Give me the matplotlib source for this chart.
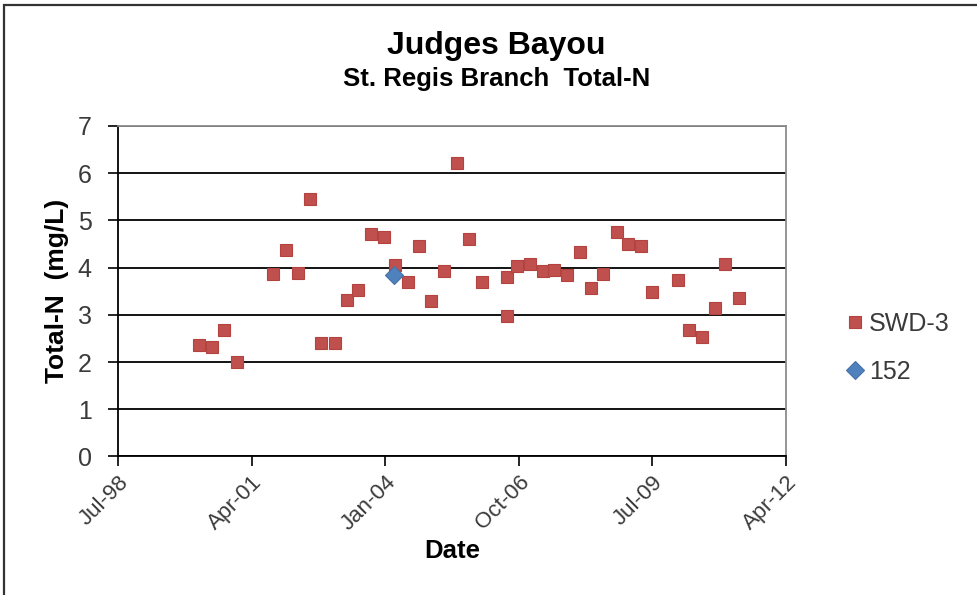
import numpy as np
import pandas as pd
import matplotlib
matplotlib.use('agg')
import matplotlib.pyplot as plt
import matplotlib.dates as mdates
from matplotlib.patches import Rectangle

plt.rcParams['font.family'] = ['Liberation Sans', 'DejaVu Sans']

# sample dates as Excel serial day numbers (origin 1899-12-30)
swd3_serial = [36607, 36707, 36790, 36890, 37157, 37260, 37347, 37434, 37522, 37622,
               37712, 37799, 37894, 37989, 38077, 38172, 38256, 38346, 38439, 38534,
               38629, 38721, 38908, 38908, 38988, 39083, 39178, 39263, 39358, 39458,
               39540, 39633, 39733, 39821, 39911, 39996, 40188, 40271, 40373, 40466,
               40543, 40648]
swd3_tn = [2.36, 2.31, 2.68, 2.00, 3.87, 4.37, 3.89, 5.46, 2.41, 2.41,
           3.32, 3.53, 4.71, 4.65, 4.06, 3.70, 4.45, 3.29, 3.93, 6.21,
           4.61, 3.70, 3.80, 2.98, 4.04, 4.07, 3.93, 3.96, 3.84, 4.34,
           3.56, 3.87, 4.76, 4.51, 4.45, 3.49, 3.73, 2.68, 2.54, 3.15,
           4.07, 3.35]
st152_serial = [38069]
st152_tn = [3.85]

tick_serial = [36000, 37000, 38000, 39000, 40000, 41000]


def to_date(s):
    return pd.to_datetime(np.array(s), unit='D', origin='1899-12-30')


fig = plt.figure(figsize=(9.77, 5.95), dpi=100)
ax = fig.add_axes([0.1208, 0.2328, 0.6837, 0.5555])

ax.plot(to_date(swd3_serial), swd3_tn, ls='none', marker='s', ms=8,
        mfc='#C0504D', mec='#B4423F', mew=0.8, label='SWD-3', zorder=3)
ax.plot(to_date(st152_serial), st152_tn, ls='none', marker='D', ms=9.5,
        mfc='#4F81BD', mec='#4472A8', mew=0.8, label='152', zorder=4)

ticks = to_date(tick_serial)
ax.set_xlim(ticks[0], ticks[-1])
ax.set_xticks(ticks)
ax.xaxis.set_major_formatter(mdates.DateFormatter('%b-%y'))
ax.set_ylim(0, 7)
ax.set_yticks(range(0, 8))

ax.set_axisbelow(True)
ax.yaxis.grid(True, color='black', lw=1.3)
for side in ['top', 'right']:
    ax.spines[side].set_color('#8c8c8c')
    ax.spines[side].set_linewidth(1.3)
for side in ['left', 'bottom']:
    ax.spines[side].set_color('black')
    ax.spines[side].set_linewidth(1.3)

ax.tick_params(axis='both', direction='out', length=7, width=1.2, color='black',
               labelcolor='#3a3a3a')
ax.tick_params(axis='y', pad=12, labelsize=18)
ax.tick_params(axis='x', pad=4, labelsize=16)
for lab in ax.get_xticklabels():
    lab.set_rotation(45)
    lab.set_ha('right')
    lab.set_va('top')
    lab.set_rotation_mode('anchor')

ax.set_xlabel('Date', fontsize=18.5, fontweight='bold', labelpad=3)
ax.set_ylabel('Total-N  (mg/L)', fontsize=19, fontweight='bold', labelpad=6)

fig.text(0.508, 0.922, 'Judges Bayou', ha='center', va='center',
         fontsize=23, fontweight='bold')
fig.text(0.508, 0.867, 'St. Regis Branch  Total-N', ha='center', va='center',
         fontsize=18.5, fontweight='bold')

ax.legend(loc='center left', bbox_to_anchor=(0.855, 0.415), bbox_transform=fig.transFigure,
          frameon=False, fontsize=18, handlelength=0.6, handletextpad=0.25,
          labelspacing=0.95, borderpad=0, labelcolor='#3a3a3a')

# chart frame (only top and left edges show in the crop)
fig.patches.append(Rectangle((0.004, -0.05), 1.2, 1.042, transform=fig.transFigure,
                             fill=False, ec='#333333', lw=1.6))

fig.savefig('out.png', dpi=100)
